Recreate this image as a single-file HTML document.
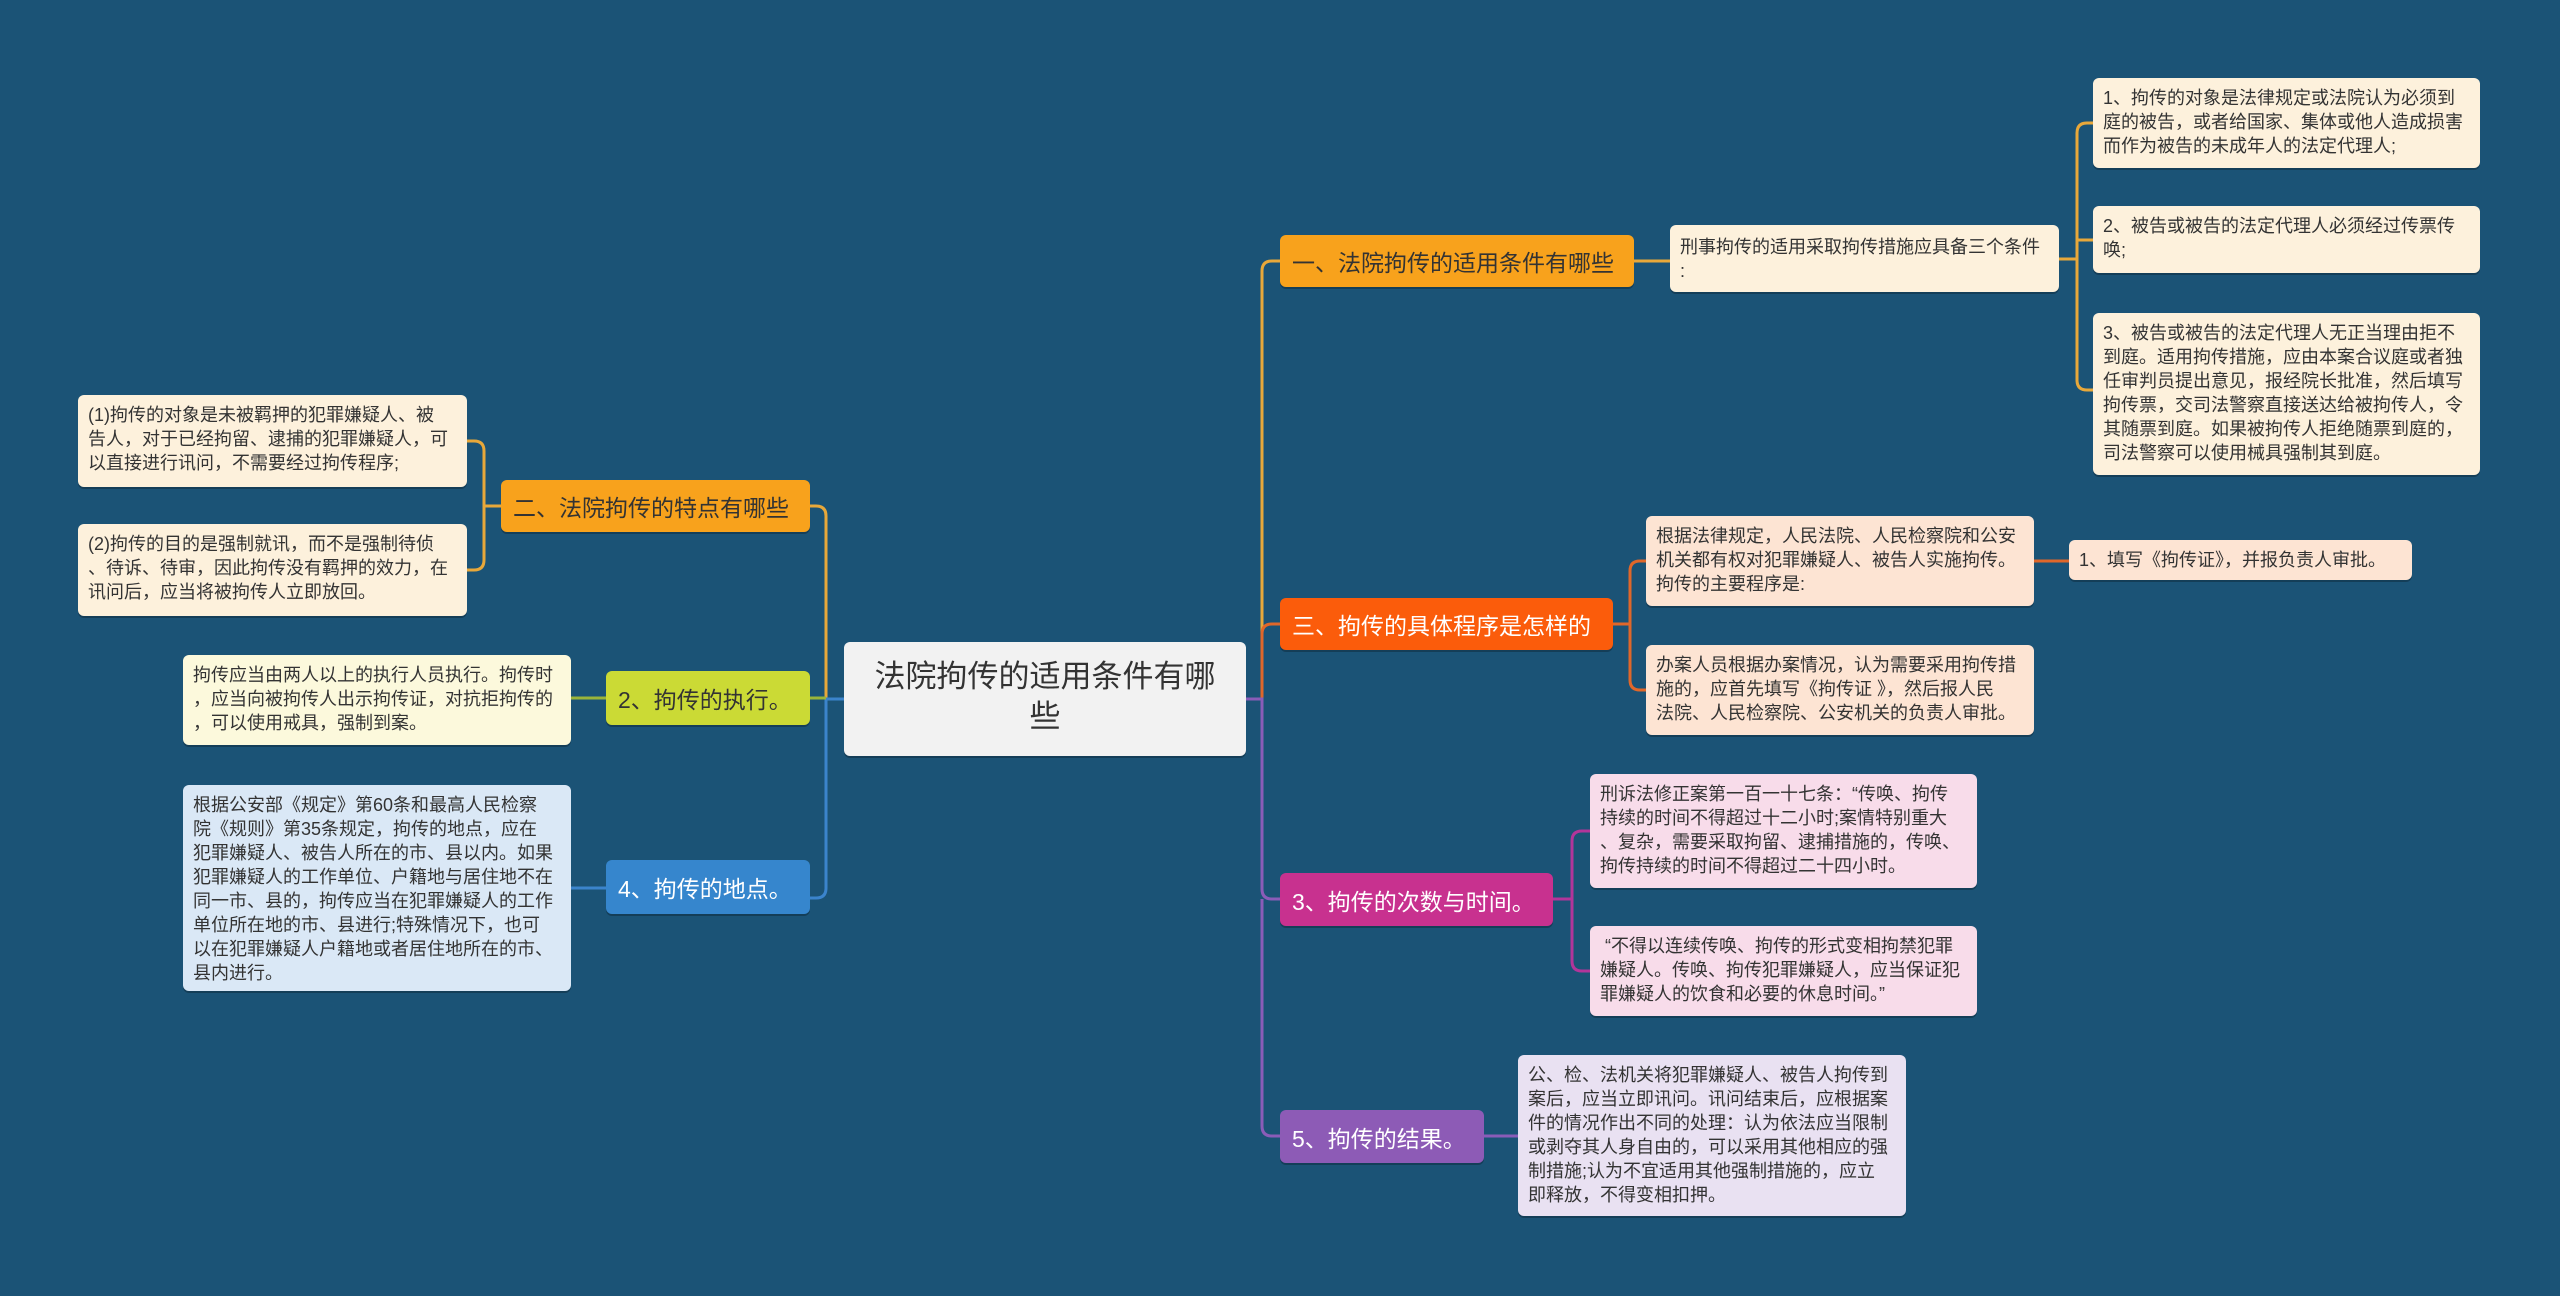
<!DOCTYPE html>
<html><head><meta charset="utf-8"><style>
body{margin:0;width:2560px;height:1296px;background:#1b5376;position:relative;overflow:hidden;font-family:"Liberation Sans","Noto Sans CJK SC",sans-serif;}
.b{position:absolute;box-sizing:border-box;border-radius:6px;box-shadow:0 2px 0 rgba(0,0,0,.25);}
.t{font-size:18px;line-height:24px;color:#333;padding:8px 10px;}
.m{font-size:23px;display:flex;align-items:center;padding:0 12px;white-space:nowrap;}
</style></head><body>
<svg width="2560" height="1296" style="position:absolute;left:0;top:0" fill="none" stroke-width="3">
<!-- right -->
<path d="M1246 699 H1262 V271 Q1262 261 1272 261 H1280" stroke="#e8a83a"/>
<path d="M1262 699 V634 Q1262 624 1272 624 H1280" stroke="#e0672a"/>
<path d="M1246 699 H1262 V889 Q1262 899 1272 899 H1280" stroke="#8a5cb8"/>
<path d="M1262 899 V1126 Q1262 1136 1272 1136 H1280" stroke="#8a5cb8"/>
<path d="M1634 261 H1670" stroke="#e8a83a"/>
<path d="M2059 259 H2077 M2093 123 H2087 Q2077 123 2077 133 V380 Q2077 390 2087 390 H2093 M2077 240 H2093" stroke="#e8a83a"/>
<path d="M1613 624 H1630 M1646 561 H1640 Q1630 561 1630 571 V680 Q1630 690 1640 690 H1646" stroke="#e0672a"/>
<path d="M2034 561 H2069" stroke="#e0672a"/>
<path d="M1553 899 H1572 M1590 831 H1582 Q1572 831 1572 841 V961 Q1572 971 1582 971 H1590" stroke="#b2359a"/>
<path d="M1484 1136 H1518" stroke="#8a5cb8"/>
<!-- left -->
<path d="M844 699 H826 V516 Q826 506 816 506 H810" stroke="#e8a83a"/>
<path d="M844 699 H826 V888 Q826 898 816 898 H810" stroke="#3b84cc"/>
<path d="M826 698 H810" stroke="#9ab43a"/>
<path d="M501 506 H484 M467 441 H474 Q484 441 484 451 V560 Q484 570 474 570 H467" stroke="#e8a83a"/>
<path d="M606 698 H571" stroke="#9ab43a"/>
<path d="M606 888 H571" stroke="#3b84cc"/>
</svg>

<div class="b" style="left:844px;top:642px;width:402px;height:114px;background:#f2f2f2;font-size:31px;line-height:40px;color:#333;text-align:center;padding:15px 10px;">法院拘传的适用条件有哪<br>些</div>

<div class="b m" style="left:1280px;top:235px;width:354px;height:52px;background:#f8a21c;color:#333;">一、法院拘传的适用条件有哪些</div>
<div class="b t" style="left:1670px;top:225px;width:389px;height:67px;background:#fdf1dc;padding-top:10px;">刑事拘传的适用采取拘传措施应具备三个条件<br>:</div>
<div class="b t" style="left:2093px;top:78px;width:387px;height:90px;background:#fdf1dc;">1、拘传的对象是法律规定或法院认为必须到<br>庭的被告，或者给国家、集体或他人造成损害<br>而作为被告的未成年人的法定代理人;</div>
<div class="b t" style="left:2093px;top:206px;width:387px;height:67px;background:#fdf1dc;">2、被告或被告的法定代理人必须经过传票传<br>唤;</div>
<div class="b t" style="left:2093px;top:313px;width:387px;height:162px;background:#fdf1dc;">3、被告或被告的法定代理人无正当理由拒不<br>到庭。适用拘传措施，应由本案合议庭或者独<br>任审判员提出意见，报经院长批准，然后填写<br>拘传票，交司法警察直接送达给被拘传人，令<br>其随票到庭。如果被拘传人拒绝随票到庭的，<br>司法警察可以使用械具强制其到庭。</div>

<div class="b m" style="left:1280px;top:598px;width:333px;height:52px;background:#fb5c0b;color:#fff;">三、拘传的具体程序是怎样的</div>
<div class="b t" style="left:1646px;top:516px;width:388px;height:90px;background:#fde4d3;">根据法律规定，人民法院、人民检察院和公安<br>机关都有权对犯罪嫌疑人、被告人实施拘传。<br>拘传的主要程序是:</div>
<div class="b t" style="left:1646px;top:645px;width:388px;height:90px;background:#fde4d3;">办案人员根据办案情况，认为需要采用拘传措<br>施的，应首先填写《拘传证 》，然后报人民<br>法院、人民检察院、公安机关的负责人审批。</div>
<div class="b t" style="left:2069px;top:540px;width:343px;height:40px;background:#fde4d3;">1、填写《拘传证》，并报负责人审批。</div>

<div class="b m" style="left:1280px;top:873px;width:273px;height:53px;background:#c8318f;color:#fff;">3、拘传的次数与时间。</div>
<div class="b t" style="left:1590px;top:774px;width:387px;height:114px;background:#f8dcea;">刑诉法修正案第一百一十七条：“传唤、拘传<br>持续的时间不得超过十二小时;案情特别重大<br>、复杂，需要采取拘留、逮捕措施的，传唤、<br>拘传持续的时间不得超过二十四小时。</div>
<div class="b t" style="left:1590px;top:926px;width:387px;height:90px;background:#f8dcea;">&nbsp;“不得以连续传唤、拘传的形式变相拘禁犯罪<br>嫌疑人。传唤、拘传犯罪嫌疑人，应当保证犯<br>罪嫌疑人的饮食和必要的休息时间。”</div>

<div class="b m" style="left:1280px;top:1110px;width:204px;height:53px;background:#8d5bb6;color:#fff;">5、拘传的结果。</div>
<div class="b t" style="left:1518px;top:1055px;width:388px;height:161px;background:#e9e1f2;">公、检、法机关将犯罪嫌疑人、被告人拘传到<br>案后，应当立即讯问。讯问结束后，应根据案<br>件的情况作出不同的处理：认为依法应当限制<br>或剥夺其人身自由的，可以采用其他相应的强<br>制措施;认为不宜适用其他强制措施的，应立<br>即释放，不得变相扣押。</div>

<div class="b m" style="left:501px;top:480px;width:309px;height:52px;background:#f8a21c;color:#333;">二、法院拘传的特点有哪些</div>
<div class="b t" style="left:78px;top:395px;width:389px;height:92px;background:#fdf1dc;">(1)拘传的对象是未被羁押的犯罪嫌疑人、被<br>告人，对于已经拘留、逮捕的犯罪嫌疑人，可<br>以直接进行讯问，不需要经过拘传程序;</div>
<div class="b t" style="left:78px;top:524px;width:389px;height:92px;background:#fdf1dc;">(2)拘传的目的是强制就讯，而不是强制待侦<br>、待诉、待审，因此拘传没有羁押的效力，在<br>讯问后，应当将被拘传人立即放回。</div>

<div class="b m" style="left:606px;top:671px;width:204px;height:54px;background:#cbda35;color:#333;">2、拘传的执行。</div>
<div class="b t" style="left:183px;top:655px;width:388px;height:90px;background:#fcf9dc;">拘传应当由两人以上的执行人员执行。拘传时<br>，应当向被拘传人出示拘传证，对抗拒拘传的<br>，可以使用戒具，强制到案。</div>

<div class="b m" style="left:606px;top:860px;width:204px;height:54px;background:#3686cd;color:#fff;">4、拘传的地点。</div>
<div class="b t" style="left:183px;top:785px;width:388px;height:206px;background:#dae8f6;">根据公安部《规定》第60条和最高人民检察<br>院《规则》第35条规定，拘传的地点，应在<br>犯罪嫌疑人、被告人所在的市、县以内。如果<br>犯罪嫌疑人的工作单位、户籍地与居住地不在<br>同一市、县的，拘传应当在犯罪嫌疑人的工作<br>单位所在地的市、县进行;特殊情况下，也可<br>以在犯罪嫌疑人户籍地或者居住地所在的市、<br>县内进行。</div>
</body></html>
